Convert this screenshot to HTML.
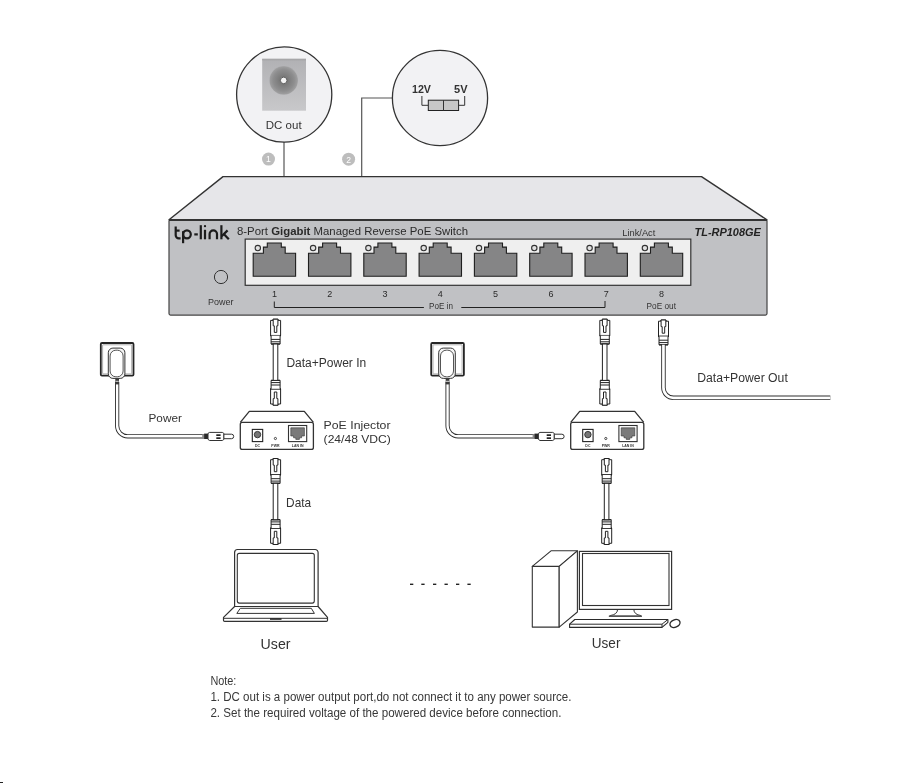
<!DOCTYPE html><html><head><meta charset="utf-8"><style>html,body{margin:0;padding:0;background:#fff;width:922px;height:783px;overflow:hidden;position:relative}</style></head><body><svg width="922" height="783" viewBox="0 0 922 783" style="position:absolute;left:0;top:0;font-family:'Liberation Sans', sans-serif;will-change:transform">

<defs>
 <radialGradient id="dcg" cx="0.5" cy="0.5" r="0.5">
  <stop offset="0" stop-color="#6e6e6e"/>
  <stop offset="0.3" stop-color="#7a7a7a"/>
  <stop offset="0.75" stop-color="#8e8e8f"/>
  <stop offset="0.95" stop-color="#9d9d9e"/>
  <stop offset="1" stop-color="#a8a8aa"/>
 </radialGradient>
 <linearGradient id="sqg" x1="0" y1="0" x2="0" y2="1">
  <stop offset="0" stop-color="#b1b1b4"/>
  <stop offset="1" stop-color="#c8c8ca"/>
 </linearGradient>
 <g id="rjhead">
  <!-- head: top at y=0 ; x 0..10.4 -->
  <path d="M0.3,1.2 H2.7 V0 H7.8 V1.2 H10.3 V16.3 H0.3 Z" fill="#fff" stroke="#222" stroke-width="1"/>
  <path d="M2.9,0 H7.6 V6.6 H6.5 V13.2 H4 V6.6 H2.9 Z" fill="#fff" stroke="#222" stroke-width="1"/>
  <line x1="0" y1="16.4" x2="10.6" y2="16.4" stroke="#111" stroke-width="1.3"/>
  <path d="M0.8,16.4 V24.8 H9.8 V16.4" fill="#fff" stroke="#222" stroke-width="1"/>
  <line x1="0.8" y1="20.2" x2="9.8" y2="20.2" stroke="#222" stroke-width="1"/>
  <line x1="0.8" y1="22.6" x2="9.8" y2="22.6" stroke="#222" stroke-width="1"/>
  <line x1="0.8" y1="24.8" x2="9.8" y2="24.8" stroke="#222" stroke-width="1.2"/>
 </g>
</defs>

<rect width="922" height="783" fill="#fff"/>
<line x1="284" y1="142" x2="284" y2="177" stroke="#555" stroke-width="1.2"/>
<circle cx="284.2" cy="94.5" r="47.6" fill="#f2f2f4" stroke="#333" stroke-width="1.3"/>
<rect x="262.2" y="58.8" width="43.8" height="51.9" fill="url(#sqg)"/><rect x="262.2" y="58.8" width="43.8" height="1.6" fill="#a6a6a8"/>
<circle cx="283.7" cy="80.4" r="14.3" fill="url(#dcg)"/>
<circle cx="283.7" cy="80.4" r="3.3" fill="#f4f4f4" stroke="#5e5e5e" stroke-width="1"/>
<text x="265.8" y="129" font-size="11.8" fill="#333" text-anchor="start" font-weight="normal" font-style="normal" textLength="35.8" lengthAdjust="spacingAndGlyphs" >DC out</text>
<circle cx="268.5" cy="159.1" r="6.5" fill="#bdbdbd"/>
<text x="268.5" y="162.4" font-size="8.6" fill="#fff" text-anchor="middle" font-weight="normal" font-style="normal" >1</text>
<polyline points="392.5,98 361.7,98 361.7,177" fill="none" stroke="#555" stroke-width="1.2"/>
<circle cx="440" cy="98" r="47.6" fill="#f2f2f4" stroke="#333" stroke-width="1.3"/>
<text x="412" y="93" font-size="10.2" fill="#333" text-anchor="start" font-weight="bold" font-style="normal" textLength="19" lengthAdjust="spacingAndGlyphs" >12V</text>
<text x="454" y="93" font-size="10.2" fill="#333" text-anchor="start" font-weight="bold" font-style="normal" textLength="13.5" lengthAdjust="spacingAndGlyphs" >5V</text>
<polyline points="421.9,96 421.9,105.3 428.3,105.3" fill="none" stroke="#333" stroke-width="1"/>
<polyline points="464.7,96 464.7,105.3 458.6,105.3" fill="none" stroke="#333" stroke-width="1"/>
<rect x="428.3" y="100.2" width="30.3" height="10.3" fill="#c7c7c7" stroke="#222" stroke-width="1"/>
<line x1="443.5" y1="100.2" x2="443.5" y2="110.5" stroke="#333" stroke-width="1"/>
<circle cx="348.6" cy="159.2" r="6.5" fill="#bdbdbd"/>
<text x="348.6" y="162.6" font-size="8.6" fill="#fff" text-anchor="middle" font-weight="normal" font-style="normal" >2</text>
<polygon points="223,176.6 701.5,176.6 767,219.8 169,219.8" fill="#e6e6e9" stroke="#333" stroke-width="1.4" stroke-linejoin="round"/>
<rect x="169" y="219.8" width="598" height="95.3" rx="1.5" fill="#c0c1c4" stroke="#444" stroke-width="1.2"/>
<line x1="169" y1="220" x2="767" y2="220" stroke="#333" stroke-width="2"/>
<g fill="none" stroke="#1c1c1c" stroke-width="2.2"><path d="M175.7,226.4 V235.2 A3.1,3.1 0 0 0 178.8,238.3 H180.6"/><path d="M175.7,230.6 H179.6"/><path d="M183.1,231.2 V243.2"/><ellipse cx="186.95" cy="234.3" rx="3.85" ry="4"/><path d="M194.3,234.4 H197.8"/><path d="M200.8,225.2 V239.3"/><path d="M205,229.8 V239.3"/><path d="M209.6,239.3 V234.1 A3.7,3.7 0 0 1 217,234.1 V239.3"/><path d="M221.4,225.2 V239.3"/><path d="M221.6,236.2 L227.6,230.4"/><path d="M223.8,234 L228.8,239.3"/></g>
<circle cx="205" cy="226.2" r="1.15" fill="#1c1c1c"/>
<text x="237" y="234.5" font-size="10.5" fill="#2a2a2a" text-anchor="start" font-weight="normal" font-style="normal" textLength="231" lengthAdjust="spacingAndGlyphs" >8-Port <tspan font-weight="bold">Gigabit</tspan> Managed Reverse PoE Switch</text>
<text x="622.3" y="235.7" font-size="9.4" fill="#333" text-anchor="start" font-weight="normal" font-style="normal" textLength="33" lengthAdjust="spacingAndGlyphs" >Link/Act</text>
<text x="694.5" y="236.2" font-size="10.6" fill="#222" text-anchor="start" font-weight="bold" font-style="italic" textLength="66.4" lengthAdjust="spacingAndGlyphs" >TL-RP108GE</text>
<circle cx="221" cy="277" r="6.6" fill="none" stroke="#333" stroke-width="1"/>
<text x="208" y="305" font-size="9.8" fill="#333" text-anchor="start" font-weight="normal" font-style="normal" textLength="25.5" lengthAdjust="spacingAndGlyphs" >Power</text>
<rect x="245.2" y="239.1" width="445.6" height="46.2" fill="#efefef" stroke="#333" stroke-width="1.2"/>
<path transform="translate(253.20,243)" d="M0,10.3 H10.2 V4.1 H14.1 V0 H28.1 V4.1 H32 V10.3 H42.4 V33.2 H0 Z" fill="#858586" stroke="#1e1e1e" stroke-width="1.1"/>
<circle cx="257.80" cy="248.1" r="2.7" fill="#e2e2e2" stroke="#333" stroke-width="1.1"/>
<text x="274.40" y="296.6" font-size="9" fill="#2a2a2a" text-anchor="middle" font-weight="normal" font-style="normal" >1</text>
<path transform="translate(308.50,243)" d="M0,10.3 H10.2 V4.1 H14.1 V0 H28.1 V4.1 H32 V10.3 H42.4 V33.2 H0 Z" fill="#858586" stroke="#1e1e1e" stroke-width="1.1"/>
<circle cx="313.10" cy="248.1" r="2.7" fill="#e2e2e2" stroke="#333" stroke-width="1.1"/>
<text x="329.70" y="296.6" font-size="9" fill="#2a2a2a" text-anchor="middle" font-weight="normal" font-style="normal" >2</text>
<path transform="translate(363.80,243)" d="M0,10.3 H10.2 V4.1 H14.1 V0 H28.1 V4.1 H32 V10.3 H42.4 V33.2 H0 Z" fill="#858586" stroke="#1e1e1e" stroke-width="1.1"/>
<circle cx="368.40" cy="248.1" r="2.7" fill="#e2e2e2" stroke="#333" stroke-width="1.1"/>
<text x="385.00" y="296.6" font-size="9" fill="#2a2a2a" text-anchor="middle" font-weight="normal" font-style="normal" >3</text>
<path transform="translate(419.10,243)" d="M0,10.3 H10.2 V4.1 H14.1 V0 H28.1 V4.1 H32 V10.3 H42.4 V33.2 H0 Z" fill="#858586" stroke="#1e1e1e" stroke-width="1.1"/>
<circle cx="423.70" cy="248.1" r="2.7" fill="#e2e2e2" stroke="#333" stroke-width="1.1"/>
<text x="440.30" y="296.6" font-size="9" fill="#2a2a2a" text-anchor="middle" font-weight="normal" font-style="normal" >4</text>
<path transform="translate(474.40,243)" d="M0,10.3 H10.2 V4.1 H14.1 V0 H28.1 V4.1 H32 V10.3 H42.4 V33.2 H0 Z" fill="#858586" stroke="#1e1e1e" stroke-width="1.1"/>
<circle cx="479.00" cy="248.1" r="2.7" fill="#e2e2e2" stroke="#333" stroke-width="1.1"/>
<text x="495.60" y="296.6" font-size="9" fill="#2a2a2a" text-anchor="middle" font-weight="normal" font-style="normal" >5</text>
<path transform="translate(529.70,243)" d="M0,10.3 H10.2 V4.1 H14.1 V0 H28.1 V4.1 H32 V10.3 H42.4 V33.2 H0 Z" fill="#858586" stroke="#1e1e1e" stroke-width="1.1"/>
<circle cx="534.30" cy="248.1" r="2.7" fill="#e2e2e2" stroke="#333" stroke-width="1.1"/>
<text x="550.90" y="296.6" font-size="9" fill="#2a2a2a" text-anchor="middle" font-weight="normal" font-style="normal" >6</text>
<path transform="translate(585.00,243)" d="M0,10.3 H10.2 V4.1 H14.1 V0 H28.1 V4.1 H32 V10.3 H42.4 V33.2 H0 Z" fill="#858586" stroke="#1e1e1e" stroke-width="1.1"/>
<circle cx="589.60" cy="248.1" r="2.7" fill="#e2e2e2" stroke="#333" stroke-width="1.1"/>
<text x="606.20" y="296.6" font-size="9" fill="#2a2a2a" text-anchor="middle" font-weight="normal" font-style="normal" >7</text>
<path transform="translate(640.30,243)" d="M0,10.3 H10.2 V4.1 H14.1 V0 H28.1 V4.1 H32 V10.3 H42.4 V33.2 H0 Z" fill="#858586" stroke="#1e1e1e" stroke-width="1.1"/>
<circle cx="644.90" cy="248.1" r="2.7" fill="#e2e2e2" stroke="#333" stroke-width="1.1"/>
<text x="661.50" y="296.6" font-size="9" fill="#2a2a2a" text-anchor="middle" font-weight="normal" font-style="normal" >8</text>
<polyline points="274.3,301.5 274.3,307.5 423.9,307.5" fill="none" stroke="#222" stroke-width="1"/>
<polyline points="461.3,307.5 605,307.5 605,301" fill="none" stroke="#222" stroke-width="1"/>
<text x="429" y="308.7" font-size="8.2" fill="#333" text-anchor="start" font-weight="normal" font-style="normal" textLength="23.9" lengthAdjust="spacingAndGlyphs" >PoE in</text>
<text x="646.6" y="309.3" font-size="8.2" fill="#333" text-anchor="start" font-weight="normal" font-style="normal" textLength="29.4" lengthAdjust="spacingAndGlyphs" >PoE out</text>
<g transform="translate(270.3,319.2)"><use href="#rjhead"/></g>
<g transform="translate(270.3,405.2) scale(1,-1)"><use href="#rjhead"/></g>
<rect x="273.2" y="344.0" width="4.6" height="36.4" fill="#fff" stroke="#222" stroke-width="1"/>
<g transform="translate(270.3,458.5)"><use href="#rjhead"/></g>
<g transform="translate(270.3,544.5) scale(1,-1)"><use href="#rjhead"/></g>
<rect x="273.2" y="483.3" width="4.6" height="36.4" fill="#fff" stroke="#222" stroke-width="1"/>
<g transform="translate(599.5,319.2)"><use href="#rjhead"/></g>
<g transform="translate(599.5,405.2) scale(1,-1)"><use href="#rjhead"/></g>
<rect x="602.4" y="344.0" width="4.6" height="36.4" fill="#fff" stroke="#222" stroke-width="1"/>
<g transform="translate(601.4,458.5)"><use href="#rjhead"/></g>
<g transform="translate(601.4,544.5) scale(1,-1)"><use href="#rjhead"/></g>
<rect x="604.3" y="483.3" width="4.6" height="36.4" fill="#fff" stroke="#222" stroke-width="1"/>
<g transform="translate(658.2,320)"><use href="#rjhead"/></g>
<path d="M663.45,344.8 V387.8 A10,10 0 0 0 673.45,397.8 H830.3" fill="none" stroke="#2e2e2e" stroke-width="4.5"/>
<path d="M663.45,344.8 V387.8 A10,10 0 0 0 673.45,397.8 H830.3" fill="none" stroke="#fff" stroke-width="2.7"/>
<text x="286.4" y="366.6" font-size="12" fill="#333" text-anchor="start" font-weight="normal" font-style="normal" textLength="79.8" lengthAdjust="spacingAndGlyphs" >Data+Power In</text>
<text x="697.2" y="381.9" font-size="12" fill="#333" text-anchor="start" font-weight="normal" font-style="normal" textLength="90.6" lengthAdjust="spacingAndGlyphs" >Data+Power Out</text>
<text x="286.1" y="506.7" font-size="12.2" fill="#333" text-anchor="start" font-weight="normal" font-style="normal" textLength="25" lengthAdjust="spacingAndGlyphs" >Data</text>
<g transform="translate(0,0)">
<rect x="100.8" y="343" width="32.7" height="32.7" rx="1.2" fill="#fff" stroke="#262626" stroke-width="1.8"/>
<rect x="102.6" y="344.8" width="29.1" height="29.1" rx="0.5" fill="none" stroke="#8a8a8a" stroke-width="0.7"/>
<path d="M117.15,382 V425.8 A10.5,10.5 0 0 0 127.65,436.3 H204" fill="none" stroke="#2e2e2e" stroke-width="4.2"/>
<path d="M117.15,382 V425.8 A10.5,10.5 0 0 0 127.65,436.3 H204" fill="none" stroke="#fff" stroke-width="2.4"/>
<rect x="115.3" y="378.2" width="3.7" height="6.2" fill="#3a3a3a"/>
<line x1="115.6" y1="381.3" x2="118.7" y2="381.3" stroke="#ddd" stroke-width="1"/>
<rect x="108.3" y="348.1" width="16.6" height="30.3" rx="4.6" fill="#f4f4f4" stroke="#333" stroke-width="1"/>
<rect x="110.1" y="350.2" width="13" height="26.6" rx="5.8" fill="#fff" stroke="#555" stroke-width="1"/>
<rect x="202.2" y="434.1" width="2" height="4.4" fill="#8a8a8a"/>
<rect x="204.1" y="433.6" width="3.9" height="5.4" fill="#2a2a2a"/>
<path d="M208,433.4 L209.6,432.4 H222.3 L223.9,433.4 V439.4 L222.3,440.5 H209.6 L208,439.4 Z" fill="#fff" stroke="#333" stroke-width="1"/>
<rect x="216.3" y="434.3" width="4.3" height="1.7" fill="#222"/>
<rect x="216.3" y="437.3" width="4.3" height="1.7" fill="#222"/>
<path d="M223.9,434.2 H231.5 A2.2,2.25 0 0 1 231.5,438.7 H223.9 Z" fill="#fff" stroke="#333" stroke-width="1"/>
<path d="M240.3,422.3 L249.3,411.3 H304.3 L313.4,422.3" fill="#fff" stroke="#333" stroke-width="1.3" stroke-linejoin="round"/>
<rect x="240.3" y="422.3" width="73.1" height="27.1" rx="2" fill="#fff" stroke="#333" stroke-width="1.3"/>
<rect x="252.3" y="429.4" width="10.4" height="12.2" fill="#fff" stroke="#222" stroke-width="1.1"/>
<circle cx="257.5" cy="434.6" r="3.2" fill="#767676" stroke="#2a2a2a" stroke-width="0.9"/>
<circle cx="275.4" cy="438.5" r="1.1" fill="#fff" stroke="#333" stroke-width="0.9"/>
<rect x="288.5" y="425.5" width="18.2" height="16.1" fill="#fff" stroke="#333" stroke-width="1.1"/>
<path transform="translate(290.8,427.8)" d="M0,0 H13.6 V8.2 H10.8 V10 H8.6 V11.6 H5 V10 H2.8 V8.2 H0 Z" fill="#7a7a7a" stroke="#333" stroke-width="0.6"/>
<text x="257.5" y="447.3" font-size="3.5" fill="#333" text-anchor="middle" font-weight="bold" font-style="normal" >DC</text>
<text x="275.4" y="447.3" font-size="3.5" fill="#333" text-anchor="middle" font-weight="bold" font-style="normal" >PWR</text>
<text x="297.6" y="447.3" font-size="3.5" fill="#333" text-anchor="middle" font-weight="bold" font-style="normal" >LAN IN</text>
</g>
<g transform="translate(330.4,0)">
<rect x="100.8" y="343" width="32.7" height="32.7" rx="1.2" fill="#fff" stroke="#262626" stroke-width="1.8"/>
<rect x="102.6" y="344.8" width="29.1" height="29.1" rx="0.5" fill="none" stroke="#8a8a8a" stroke-width="0.7"/>
<path d="M117.15,382 V425.8 A10.5,10.5 0 0 0 127.65,436.3 H204" fill="none" stroke="#2e2e2e" stroke-width="4.2"/>
<path d="M117.15,382 V425.8 A10.5,10.5 0 0 0 127.65,436.3 H204" fill="none" stroke="#fff" stroke-width="2.4"/>
<rect x="115.3" y="378.2" width="3.7" height="6.2" fill="#3a3a3a"/>
<line x1="115.6" y1="381.3" x2="118.7" y2="381.3" stroke="#ddd" stroke-width="1"/>
<rect x="108.3" y="348.1" width="16.6" height="30.3" rx="4.6" fill="#f4f4f4" stroke="#333" stroke-width="1"/>
<rect x="110.1" y="350.2" width="13" height="26.6" rx="5.8" fill="#fff" stroke="#555" stroke-width="1"/>
<rect x="202.2" y="434.1" width="2" height="4.4" fill="#8a8a8a"/>
<rect x="204.1" y="433.6" width="3.9" height="5.4" fill="#2a2a2a"/>
<path d="M208,433.4 L209.6,432.4 H222.3 L223.9,433.4 V439.4 L222.3,440.5 H209.6 L208,439.4 Z" fill="#fff" stroke="#333" stroke-width="1"/>
<rect x="216.3" y="434.3" width="4.3" height="1.7" fill="#222"/>
<rect x="216.3" y="437.3" width="4.3" height="1.7" fill="#222"/>
<path d="M223.9,434.2 H231.5 A2.2,2.25 0 0 1 231.5,438.7 H223.9 Z" fill="#fff" stroke="#333" stroke-width="1"/>
<path d="M240.3,422.3 L249.3,411.3 H304.3 L313.4,422.3" fill="#fff" stroke="#333" stroke-width="1.3" stroke-linejoin="round"/>
<rect x="240.3" y="422.3" width="73.1" height="27.1" rx="2" fill="#fff" stroke="#333" stroke-width="1.3"/>
<rect x="252.3" y="429.4" width="10.4" height="12.2" fill="#fff" stroke="#222" stroke-width="1.1"/>
<circle cx="257.5" cy="434.6" r="3.2" fill="#767676" stroke="#2a2a2a" stroke-width="0.9"/>
<circle cx="275.4" cy="438.5" r="1.1" fill="#fff" stroke="#333" stroke-width="0.9"/>
<rect x="288.5" y="425.5" width="18.2" height="16.1" fill="#fff" stroke="#333" stroke-width="1.1"/>
<path transform="translate(290.8,427.8)" d="M0,0 H13.6 V8.2 H10.8 V10 H8.6 V11.6 H5 V10 H2.8 V8.2 H0 Z" fill="#7a7a7a" stroke="#333" stroke-width="0.6"/>
<text x="257.5" y="447.3" font-size="3.5" fill="#333" text-anchor="middle" font-weight="bold" font-style="normal" >DC</text>
<text x="275.4" y="447.3" font-size="3.5" fill="#333" text-anchor="middle" font-weight="bold" font-style="normal" >PWR</text>
<text x="297.6" y="447.3" font-size="3.5" fill="#333" text-anchor="middle" font-weight="bold" font-style="normal" >LAN IN</text>
</g>
<text x="323.6" y="428.6" font-size="11.8" fill="#333" text-anchor="start" font-weight="normal" font-style="normal" textLength="66.9" lengthAdjust="spacingAndGlyphs" >PoE Injector</text>
<text x="323.6" y="442.5" font-size="11.8" fill="#333" text-anchor="start" font-weight="normal" font-style="normal" textLength="67.3" lengthAdjust="spacingAndGlyphs" >(24/48 VDC)</text>
<text x="148.5" y="422" font-size="11.8" fill="#333" text-anchor="start" font-weight="normal" font-style="normal" textLength="33.4" lengthAdjust="spacingAndGlyphs" >Power</text>
<path d="M234.6,606.7 V552.5 A3,3 0 0 1 237.6,549.5 H315.1 A3,3 0 0 1 318.1,552.5 V606.7" fill="#fff" stroke="#333" stroke-width="1.2"/>
<rect x="237.3" y="553.4" width="77" height="49.7" rx="2" fill="#fff" stroke="#333" stroke-width="1.1"/>
<path d="M234.6,606.5 H318.1 L327.5,617.4 V620.3 Q327.5,621.4 326.4,621.4 H224.6 Q223.5,621.4 223.5,620.3 V617.4 Z" fill="#fff" stroke="#333" stroke-width="1.2" stroke-linejoin="round"/>
<line x1="223.6" y1="618.3" x2="327.4" y2="618.3" stroke="#333" stroke-width="1"/>
<path d="M240.3,608.3 H311.3 L314.4,613.4 H236.8 Z" fill="#fff" stroke="#333" stroke-width="1"/>
<rect x="270" y="618.3" width="11.5" height="1.5" fill="#222"/>
<text x="260.6" y="648.5" font-size="15.4" fill="#333" text-anchor="start" font-weight="normal" font-style="normal" textLength="29.9" lengthAdjust="spacingAndGlyphs" >User</text>
<polygon points="532.3,566.4 559.2,566.4 559.2,627.1 532.3,627.1" fill="#fff" stroke="#333" stroke-width="1.1" stroke-linejoin="round"/>
<polygon points="532.3,566.4 551,550.8 577.4,550.8 559.2,566.4" fill="#fff" stroke="#333" stroke-width="1.1" stroke-linejoin="round"/>
<polygon points="559.2,566.4 577.4,550.8 577.4,612 559.2,627.1" fill="#fff" stroke="#333" stroke-width="1.1" stroke-linejoin="round"/>
<rect x="579.4" y="551.4" width="92.2" height="58" fill="#fff" stroke="#333" stroke-width="1.2"/>
<rect x="582.5" y="553.5" width="86.5" height="52" fill="#fff" stroke="#333" stroke-width="1.1"/>
<path d="M617.6,609.4 Q617.4,614.6 610,615.6 M633.8,609.4 Q634,614.6 641,615.6" fill="none" stroke="#333" stroke-width="1"/>
<path d="M609.6,616.2 H641.2" stroke="#555" stroke-width="1.7" stroke-linecap="round"/>
<path d="M574.8,619.5 H667.9 V622.3 L662,627.4 H569.6 V624.2 Z" fill="#fff" stroke="#2a2a2a" stroke-width="1.1" stroke-linejoin="round"/>
<path d="M569.6,624.2 H662 L667.9,619.5 M662,624.2 V627.4" fill="none" stroke="#2a2a2a" stroke-width="1"/>
<ellipse cx="675" cy="623.5" rx="5.2" ry="3.7" transform="rotate(-22 675 623.5)" fill="#fff" stroke="#2a2a2a" stroke-width="1.4"/>
<text x="591.8" y="647.6" font-size="15.4" fill="#333" text-anchor="start" font-weight="normal" font-style="normal" textLength="28.6" lengthAdjust="spacingAndGlyphs" >User</text>
<rect x="410" y="583.6" width="3.3" height="1.4" fill="#222"/>
<rect x="421.3" y="583.6" width="3.3" height="1.4" fill="#222"/>
<rect x="433" y="583.6" width="3.3" height="1.4" fill="#222"/>
<rect x="444.5" y="583.6" width="3.3" height="1.4" fill="#222"/>
<rect x="456" y="583.6" width="3.3" height="1.4" fill="#222"/>
<rect x="467.4" y="583.6" width="3.3" height="1.4" fill="#222"/>
<text x="210.4" y="684.7" font-size="12.3" fill="#383838" text-anchor="start" font-weight="normal" font-style="normal" textLength="26" lengthAdjust="spacingAndGlyphs" >Note:</text>
<text x="210.4" y="700.6" font-size="12.3" fill="#383838" text-anchor="start" font-weight="normal" font-style="normal" textLength="361" lengthAdjust="spacingAndGlyphs" >1. DC out is a power output port,do not connect it to any power source.</text>
<text x="210.4" y="716.9" font-size="12.3" fill="#383838" text-anchor="start" font-weight="normal" font-style="normal" textLength="351" lengthAdjust="spacingAndGlyphs" >2. Set the required voltage of the powered device before connection.</text>
<rect x="0" y="782" width="3" height="1" fill="#222"/>
</svg></body></html>
